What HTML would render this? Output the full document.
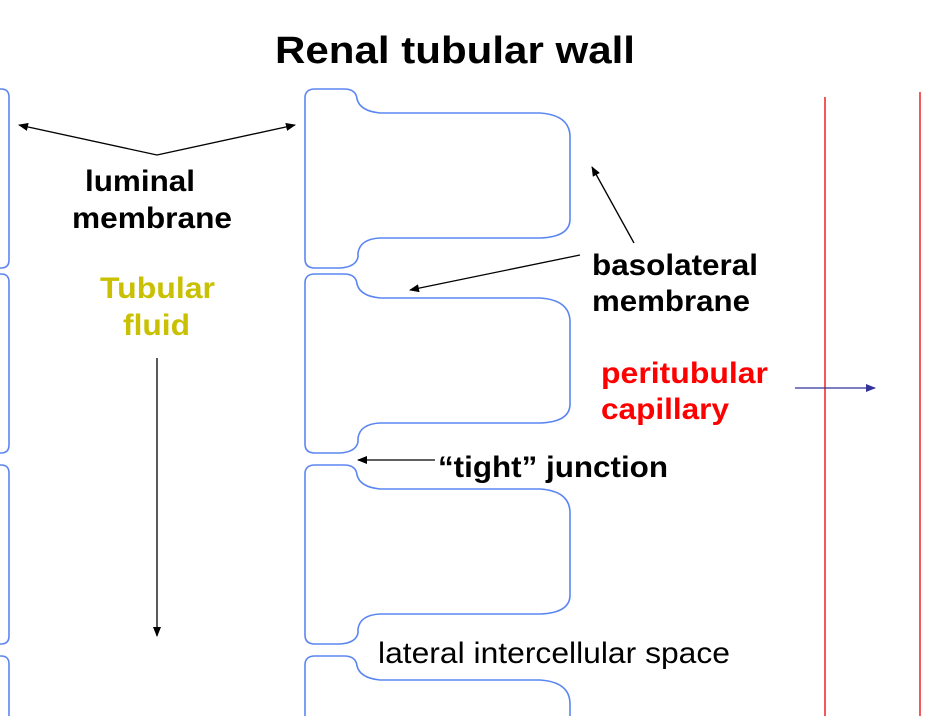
<!DOCTYPE html>
<html><head><meta charset="utf-8"><style>
html,body{margin:0;padding:0;background:#fff;width:952px;height:716px;overflow:hidden}
svg{display:block}
text{font-family:"Liberation Sans",Arial,sans-serif}
</style></head><body>
<svg width="952" height="716" viewBox="0 0 952 716" overflow="hidden">
<defs>
<marker id="a" markerWidth="10" markerHeight="8" refX="9" refY="4" orient="auto" markerUnits="userSpaceOnUse"><path d="M0,0 L10,4 L0,8 Z" fill="#000"/></marker>
<marker id="b" markerWidth="10" markerHeight="8" refX="9" refY="4" orient="auto" markerUnits="userSpaceOnUse"><path d="M0,0 L10,4 L0,8 Z" fill="#33339a"/></marker>
<g id="cell" fill="none" stroke="#5b86f2" stroke-width="1.6">
<path d="M305,9 Q305,0 315,0 L344,0 Q356,0 357,10 Q360,22 380,24 L540,24 Q570,26 570,48 L570,130 Q570,148 540,149 L380,149 Q360,150 358,164 L358,168 Q356,178 340,179 L315,179 Q305,179 305,170 Z"/>
<path d="M-5,0 L1,0 Q9,0 9,8 L9,171 Q9,179 1,179 L-5,179"/>
</g>
</defs>
<text x="275" y="63" font-size="38" font-weight="bold" textLength="360" lengthAdjust="spacingAndGlyphs">Renal tubular wall</text>
<use href="#cell" transform="translate(0,89)"/>
<use href="#cell" transform="translate(0,274)"/>
<use href="#cell" transform="translate(0,465)"/>
<use href="#cell" transform="translate(0,656)"/>
<line x1="825" y1="97" x2="825" y2="716" stroke="#f03030" stroke-width="1.6"/>
<line x1="920" y1="92" x2="920" y2="716" stroke="#f03030" stroke-width="1.6"/>
<line x1="795" y1="388" x2="875" y2="388" stroke="#33339a" stroke-width="1.2" marker-end="url(#b)"/>
<line x1="157" y1="155" x2="19" y2="125" stroke="#000" stroke-width="1.3" marker-end="url(#a)"/>
<line x1="157" y1="155" x2="295" y2="125" stroke="#000" stroke-width="1.3" marker-end="url(#a)"/>
<line x1="157" y1="358" x2="157" y2="636" stroke="#000" stroke-width="1.3" marker-end="url(#a)"/>
<line x1="634" y1="243" x2="592" y2="167" stroke="#000" stroke-width="1.3" marker-end="url(#a)"/>
<line x1="580" y1="255" x2="410" y2="290" stroke="#000" stroke-width="1.3" marker-end="url(#a)"/>
<line x1="435" y1="460" x2="358" y2="460" stroke="#000" stroke-width="1.3" marker-end="url(#a)"/>
<g font-size="30" font-weight="bold">
<text x="85" y="191" textLength="110" lengthAdjust="spacingAndGlyphs">luminal</text>
<text x="72" y="228" textLength="160" lengthAdjust="spacingAndGlyphs">membrane</text>
<text x="100" y="298" fill="#c8c000" textLength="115" lengthAdjust="spacingAndGlyphs">Tubular</text>
<text x="123" y="335" fill="#c8c000" textLength="67" lengthAdjust="spacingAndGlyphs">fluid</text>
<text x="592" y="275" textLength="166" lengthAdjust="spacingAndGlyphs">basolateral</text>
<text x="592" y="311" textLength="158" lengthAdjust="spacingAndGlyphs">membrane</text>
<text x="601" y="383" fill="#ff0000" textLength="167" lengthAdjust="spacingAndGlyphs">peritubular</text>
<text x="601" y="419" fill="#ff0000" textLength="128" lengthAdjust="spacingAndGlyphs">capillary</text>
<text x="438" y="477" textLength="230" lengthAdjust="spacingAndGlyphs">“tight” junction</text>
</g>
<text x="378" y="663" font-size="30" textLength="352" lengthAdjust="spacingAndGlyphs">lateral intercellular space</text>
</svg>
</body></html>
